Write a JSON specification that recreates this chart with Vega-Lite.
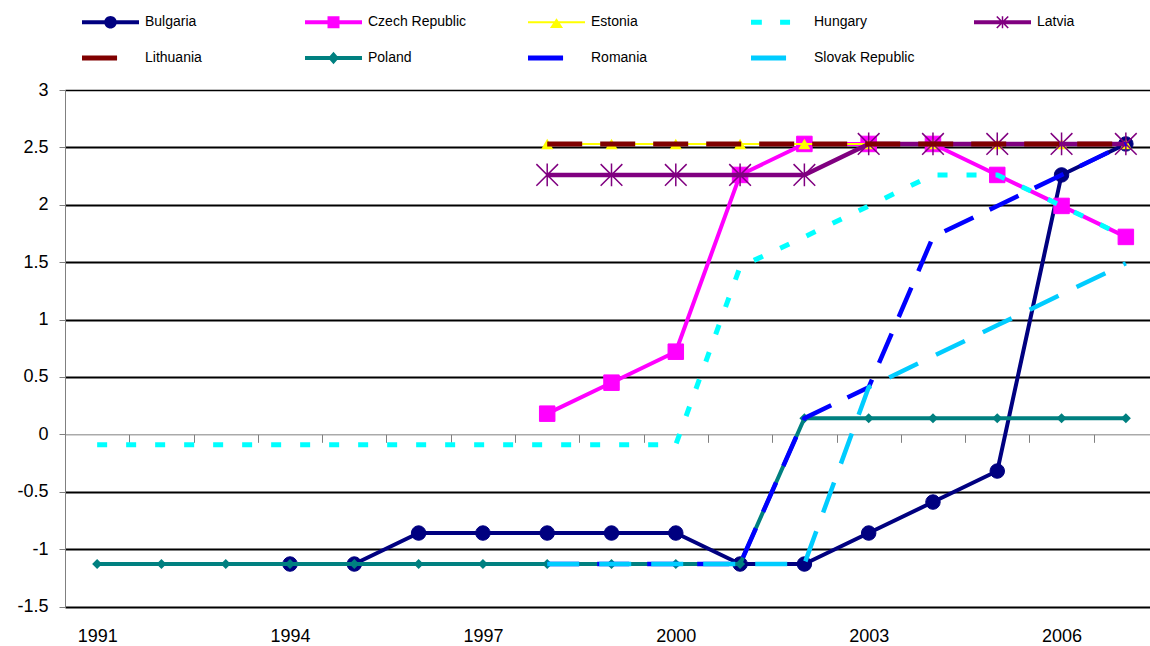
{
  "$schema": "https://vega.github.io/schema/vega-lite/v6.json",
  "width": 1093,
  "height": 516.5,
  "autosize": {"type": "none"},
  "padding": {"left": 65, "top": 90, "right": 0, "bottom": 40},
  "background": "white",
  "config": {"view": {"stroke": null}},
  "data": {"values": [
    {"c": "Bulgaria", "year": 1994, "v": -1.13},
    {"c": "Bulgaria", "year": 1995, "v": -1.13},
    {"c": "Bulgaria", "year": 1996, "v": -0.86},
    {"c": "Bulgaria", "year": 1997, "v": -0.86},
    {"c": "Bulgaria", "year": 1998, "v": -0.86},
    {"c": "Bulgaria", "year": 1999, "v": -0.86},
    {"c": "Bulgaria", "year": 2000, "v": -0.86},
    {"c": "Bulgaria", "year": 2001, "v": -1.13},
    {"c": "Bulgaria", "year": 2002, "v": -1.13},
    {"c": "Bulgaria", "year": 2003, "v": -0.86},
    {"c": "Bulgaria", "year": 2004, "v": -0.59},
    {"c": "Bulgaria", "year": 2005, "v": -0.32},
    {"c": "Bulgaria", "year": 2006, "v": 2.26},
    {"c": "Bulgaria", "year": 2007, "v": 2.53},
    {"c": "Czech Republic", "year": 1998, "v": 0.18},
    {"c": "Czech Republic", "year": 1999, "v": 0.45},
    {"c": "Czech Republic", "year": 2000, "v": 0.72},
    {"c": "Czech Republic", "year": 2001, "v": 2.26},
    {"c": "Czech Republic", "year": 2002, "v": 2.53},
    {"c": "Czech Republic", "year": 2003, "v": 2.53},
    {"c": "Czech Republic", "year": 2004, "v": 2.53},
    {"c": "Czech Republic", "year": 2005, "v": 2.26},
    {"c": "Czech Republic", "year": 2006, "v": 1.99},
    {"c": "Czech Republic", "year": 2007, "v": 1.72},
    {"c": "Estonia", "year": 1998, "v": 2.53},
    {"c": "Estonia", "year": 1999, "v": 2.53},
    {"c": "Estonia", "year": 2000, "v": 2.53},
    {"c": "Estonia", "year": 2001, "v": 2.53},
    {"c": "Estonia", "year": 2002, "v": 2.53},
    {"c": "Estonia", "year": 2003, "v": 2.53},
    {"c": "Estonia", "year": 2004, "v": 2.53},
    {"c": "Estonia", "year": 2005, "v": 2.53},
    {"c": "Estonia", "year": 2006, "v": 2.53},
    {"c": "Estonia", "year": 2007, "v": 2.53},
    {"c": "Hungary", "year": 1991, "v": -0.09},
    {"c": "Hungary", "year": 1992, "v": -0.09},
    {"c": "Hungary", "year": 1993, "v": -0.09},
    {"c": "Hungary", "year": 1994, "v": -0.09},
    {"c": "Hungary", "year": 1995, "v": -0.09},
    {"c": "Hungary", "year": 1996, "v": -0.09},
    {"c": "Hungary", "year": 1997, "v": -0.09},
    {"c": "Hungary", "year": 1998, "v": -0.09},
    {"c": "Hungary", "year": 1999, "v": -0.09},
    {"c": "Hungary", "year": 2000, "v": -0.09},
    {"c": "Hungary", "year": 2001, "v": 1.46},
    {"c": "Hungary", "year": 2002, "v": 1.72},
    {"c": "Hungary", "year": 2003, "v": 1.99},
    {"c": "Hungary", "year": 2004, "v": 2.26},
    {"c": "Hungary", "year": 2005, "v": 2.26},
    {"c": "Hungary", "year": 2006, "v": 1.99},
    {"c": "Hungary", "year": 2007, "v": 1.72},
    {"c": "Latvia", "year": 1998, "v": 2.26},
    {"c": "Latvia", "year": 1999, "v": 2.26},
    {"c": "Latvia", "year": 2000, "v": 2.26},
    {"c": "Latvia", "year": 2001, "v": 2.26},
    {"c": "Latvia", "year": 2002, "v": 2.26},
    {"c": "Latvia", "year": 2003, "v": 2.53},
    {"c": "Latvia", "year": 2004, "v": 2.53},
    {"c": "Latvia", "year": 2005, "v": 2.53},
    {"c": "Latvia", "year": 2006, "v": 2.53},
    {"c": "Latvia", "year": 2007, "v": 2.53},
    {"c": "Lithuania", "year": 1998, "v": 2.53},
    {"c": "Lithuania", "year": 1999, "v": 2.53},
    {"c": "Lithuania", "year": 2000, "v": 2.53},
    {"c": "Lithuania", "year": 2001, "v": 2.53},
    {"c": "Lithuania", "year": 2002, "v": 2.53},
    {"c": "Lithuania", "year": 2003, "v": 2.53},
    {"c": "Lithuania", "year": 2004, "v": 2.53},
    {"c": "Lithuania", "year": 2005, "v": 2.53},
    {"c": "Lithuania", "year": 2006, "v": 2.53},
    {"c": "Lithuania", "year": 2007, "v": 2.53},
    {"c": "Poland", "year": 1991, "v": -1.13},
    {"c": "Poland", "year": 1992, "v": -1.13},
    {"c": "Poland", "year": 1993, "v": -1.13},
    {"c": "Poland", "year": 1994, "v": -1.13},
    {"c": "Poland", "year": 1995, "v": -1.13},
    {"c": "Poland", "year": 1996, "v": -1.13},
    {"c": "Poland", "year": 1997, "v": -1.13},
    {"c": "Poland", "year": 1998, "v": -1.13},
    {"c": "Poland", "year": 1999, "v": -1.13},
    {"c": "Poland", "year": 2000, "v": -1.13},
    {"c": "Poland", "year": 2001, "v": -1.13},
    {"c": "Poland", "year": 2002, "v": 0.14},
    {"c": "Poland", "year": 2003, "v": 0.14},
    {"c": "Poland", "year": 2004, "v": 0.14},
    {"c": "Poland", "year": 2005, "v": 0.14},
    {"c": "Poland", "year": 2006, "v": 0.14},
    {"c": "Poland", "year": 2007, "v": 0.14},
    {"c": "Romania", "year": 1998, "v": -1.13},
    {"c": "Romania", "year": 1999, "v": -1.13},
    {"c": "Romania", "year": 2000, "v": -1.13},
    {"c": "Romania", "year": 2001, "v": -1.13},
    {"c": "Romania", "year": 2002, "v": 0.14},
    {"c": "Romania", "year": 2003, "v": 0.41},
    {"c": "Romania", "year": 2004, "v": 1.72},
    {"c": "Romania", "year": 2005, "v": 1.99},
    {"c": "Romania", "year": 2006, "v": 2.26},
    {"c": "Romania", "year": 2007, "v": 2.53},
    {"c": "Slovak Republic", "year": 1998, "v": -1.13},
    {"c": "Slovak Republic", "year": 1999, "v": -1.13},
    {"c": "Slovak Republic", "year": 2000, "v": -1.13},
    {"c": "Slovak Republic", "year": 2001, "v": -1.13},
    {"c": "Slovak Republic", "year": 2002, "v": -1.13},
    {"c": "Slovak Republic", "year": 2003, "v": 0.41},
    {"c": "Slovak Republic", "year": 2004, "v": 0.68},
    {"c": "Slovak Republic", "year": 2005, "v": 0.95},
    {"c": "Slovak Republic", "year": 2006, "v": 1.22},
    {"c": "Slovak Republic", "year": 2007, "v": 1.49}
  ]},
  "encoding": {
    "x": {
      "field": "year", "type": "ordinal",
      "scale": {"type": "band", "domain": [1991,1992,1993,1994,1995,1996,1997,1998,1999,2000,2001,2002,2003,2004,2005,2006,2007], "paddingInner": 0, "paddingOuter": 0},
      "axis": {
        "title": null, "orient": "bottom", "offset": -172.17,
        "domainColor": "#808080", "domainWidth": 1,
        "tickColor": "#808080", "tickWidth": 1, "tickSize": 8, "tickBand": "extent",
        "labelPadding": 185, "labelAngle": 0, "labelBaseline": "top",
        "labelFont": "Liberation Sans", "labelFontSize": 18, "labelColor": "black",
        "labelExpr": "(datum.value - 1991) % 3 == 0 ? '' + datum.value : ''",
        "labelOverlap": false, "grid": false
      }
    },
    "y": {
      "field": "v", "type": "quantitative",
      "scale": {"domain": [-1.5, 3], "nice": false, "zero": false},
      "axis": {
        "title": null,
        "values": [-1.5, -1, -0.5, 0, 0.5, 1, 1.5, 2, 2.5, 3],
        "labelExpr": "'' + datum.value",
        "domainColor": "#808080", "domainWidth": 1,
        "tickColor": "#808080", "tickWidth": 1, "tickSize": 6,
        "labelPadding": 11, "labelFont": "Liberation Sans", "labelFontSize": 18, "labelColor": "black",
        "grid": true, "gridColor": "black",
        "gridWidth": {"condition": {"test": "datum.value === 3", "value": 1.3}, "value": 2},
        "gridOpacity": {"condition": {"test": "datum.value === 0", "value": 0}, "value": 1}
      }
    }
  },
  "layer": [
    {
      "transform": [{"filter": "false"}],
      "mark": {"type": "point", "filled": true, "opacity": 1, "strokeWidth": 0},
      "encoding": {
        "color": {
          "field": "c", "type": "nominal",
          "scale": {
            "domain": ["Bulgaria", "Czech Republic", "Estonia", "Hungary", "Latvia", "Lithuania", "Poland", "Romania", "Slovak Republic"],
            "range": ["#000080", "#FF00FF", "#FFFF00", "#00FFFF", "#800080", "#800000", "#008080", "#0000FF", "#00CCFF"]
          },
          "legend": {
            "title": null, "orient": "none", "legendX": 17, "legendY": -96.5,
            "direction": "horizontal",
            "columns": 5, "gridAlign": "all", "columnPadding": 59, "rowPadding": -22,
            "symbolSize": 3249, "symbolStrokeWidth": 0, "symbolOpacity": 1,
            "labelFont": "Liberation Sans", "labelFontSize": 14, "labelColor": "black",
            "labelOffset": 6, "padding": 0
          }
        },
        "shape": {
          "field": "c", "type": "nominal",
          "scale": {
            "domain": ["Bulgaria", "Czech Republic", "Estonia", "Hungary", "Latvia", "Lithuania", "Poland", "Romania", "Slovak Republic"],
            "range": [
              "M-1,-0.07H1V0.07H-1Z M-0.22,0A0.22,0.22 0 1,1 0.22,0A0.22,0.22 0 1,1 -0.22,0Z",
              "M-1,-0.07H1V0.07H-1Z M-0.21,-0.21H0.21V0.21H-0.21Z",
              "M-1,-0.035H1V0.035H-1Z M0,-0.14L0.23,0.2H-0.23Z",
              "M-1,-0.088H-0.62V0.088H-1Z M0.02,-0.088H0.37V0.088H0.02Z",
              "M-1,-0.07H1V0.07H-1Z M-0.026,-0.21H0.026V0.21H-0.026Z M-0.18,-0.22L0.22,0.18L0.18,0.22L-0.22,-0.18Z M0.22,-0.18L-0.18,0.22L-0.22,0.18L0.18,-0.22Z",
              "M-1,-0.088H0.23V0.088H-1Z",
              "M-1,-0.07H1V0.07H-1Z M0,-0.22L0.19,0L0,0.22L-0.19,0Z",
              "M-1,-0.088H0.23V0.088H-1Z",
              "M-1,-0.088H0.23V0.088H-1Z"
            ]
          },
          "legend": {
            "title": null, "orient": "none", "legendX": 17, "legendY": -96.5,
            "direction": "horizontal",
            "columns": 5, "gridAlign": "all", "columnPadding": 59, "rowPadding": -22,
            "symbolSize": 3249, "symbolStrokeWidth": 0, "symbolOpacity": 1,
            "labelFont": "Liberation Sans", "labelFontSize": 14, "labelColor": "black",
            "labelOffset": 6, "padding": 0
          }
        }
      }
    },
    {
      "transform": [{"filter": "datum.c === 'Bulgaria'"}],
      "mark": {"type": "line", "stroke": "#000080", "strokeWidth": 4, "strokeJoin": "round"}
    },
    {
      "transform": [{"filter": "datum.c === 'Bulgaria'"}],
      "mark": {"type": "point", "shape": "circle", "filled": true, "fill": "#000080", "stroke": "#000080", "strokeWidth": 1, "size": 210, "opacity": 1}
    },
    {
      "transform": [{"filter": "datum.c === 'Czech Republic'"}],
      "mark": {"type": "line", "stroke": "#FF00FF", "strokeWidth": 4, "strokeJoin": "round"}
    },
    {
      "transform": [{"filter": "datum.c === 'Czech Republic'"}],
      "mark": {"type": "point", "shape": "square", "filled": true, "fill": "#FF00FF", "stroke": "#FF00FF", "strokeWidth": 1, "size": 240, "opacity": 1}
    },
    {
      "transform": [{"filter": "datum.c === 'Estonia'"}],
      "mark": {"type": "line", "stroke": "#FFFF00", "strokeWidth": 2}
    },
    {
      "transform": [{"filter": "datum.c === 'Estonia'"}],
      "mark": {"type": "point", "shape": "triangle-up", "filled": true, "fill": "#FFFF00", "strokeWidth": 0, "size": 144, "opacity": 1}
    },
    {
      "transform": [{"filter": "datum.c === 'Hungary'"}],
      "mark": {"type": "line", "stroke": "#00FFFF", "strokeWidth": 5, "strokeDash": [10, 19], "strokeCap": "butt"}
    },
    {
      "transform": [{"filter": "datum.c === 'Latvia'"}],
      "mark": {"type": "line", "stroke": "#800080", "strokeWidth": 4.5, "strokeJoin": "round"}
    },
    {
      "transform": [{"filter": "datum.c === 'Latvia'"}],
      "mark": {"type": "point", "shape": "M-1,-1L1,1M1,-1L-1,1M0,-1.05L0,1.05", "filled": false, "stroke": "#800080", "strokeWidth": 1.5, "size": 470, "opacity": 1}
    },
    {
      "transform": [{"filter": "datum.c === 'Lithuania'"}],
      "mark": {"type": "line", "stroke": "#800000", "strokeWidth": 5, "strokeDash": [35, 18], "strokeCap": "butt"}
    },
    {
      "transform": [{"filter": "datum.c === 'Poland'"}],
      "mark": {"type": "line", "stroke": "#008080", "strokeWidth": 4, "strokeJoin": "round"}
    },
    {
      "transform": [{"filter": "datum.c === 'Poland'"}],
      "mark": {"type": "point", "shape": "diamond", "filled": true, "fill": "#008080", "strokeWidth": 0, "size": 100, "opacity": 1}
    },
    {
      "transform": [{"filter": "datum.c === 'Romania'"}],
      "mark": {"type": "line", "stroke": "#0000FF", "strokeWidth": 4.5, "strokeDash": [32, 18], "strokeCap": "butt"}
    },
    {
      "transform": [{"filter": "datum.c === 'Slovak Republic'"}],
      "mark": {"type": "line", "stroke": "#00CCFF", "strokeWidth": 4.5, "strokeDash": [32, 20], "strokeCap": "butt"}
    }
  ]
}
